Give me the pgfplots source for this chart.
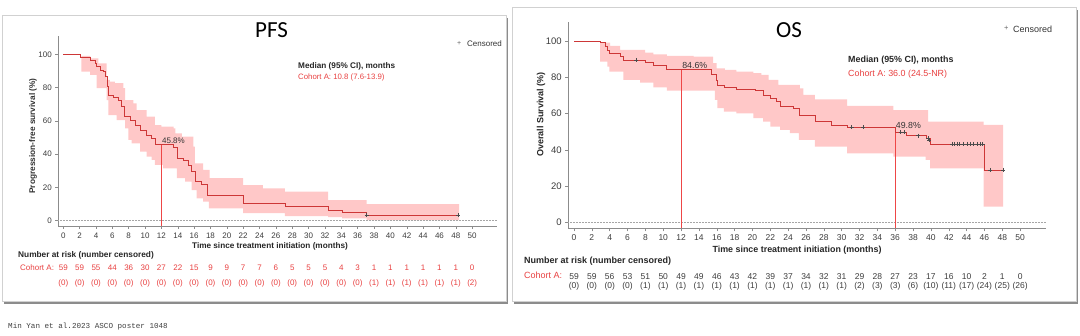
\documentclass[border=0pt]{standalone}
\usepackage{fontspec}
\setmainfont{Liberation Sans}
\newfontfamily\titlefont{Carlito}
\newfontfamily\footfont{Liberation Mono}
\usepackage{pgfplots}
\pgfplotsset{compat=1.18}
\usepgfplotslibrary{fillbetween}
\definecolor{kmline}{RGB}{205,55,55}
\definecolor{band}{RGB}{255,200,200}
\definecolor{txtred}{RGB}{232,64,64}
\definecolor{medline}{RGB}{238,70,70}
\definecolor{axgray}{RGB}{140,140,140}
\definecolor{tickgray}{RGB}{60,60,60}
\newcommand{\fs}[1]{\fontsize{#1}{#1}\selectfont}
\begin{document}
\begin{tikzpicture}
\path (0pt,0pt) rectangle (1080pt,336pt);
% panel frames
\draw[black!45, line width=2.2pt] (507pt,318pt) -- (507pt,33.5pt) -- (4pt,33.5pt);
\draw[black!18, line width=0.6pt] (2pt,34.5pt) rectangle (506pt,321pt);
\draw[black!45, line width=2.2pt] (1077pt,326pt) -- (1077pt,33.5pt) -- (514pt,33.5pt);
\draw[black!18, line width=0.6pt] (512pt,34.5pt) rectangle (1076pt,329pt);
% footer
\node[anchor=west, inner sep=0, font=\footfont\fs{7.6}, text=black!75] at (8pt,9pt) {Min Yan et al.2023 ASCO poster 1048};

% ================= PFS =================
\begin{axis}[
  at={(58.3pt,110pt)}, anchor=south west, scale only axis,
  width=438.4pt, height=190pt,
  xmin=-0.61, xmax=53.0, ymin=-3.2, ymax=111,
  axis lines*=left, axis line style={axgray, line width=0.6pt},
  xtick={0,2,...,50}, ytick={0,20,...,100},
  tick align=outside, major tick length=3pt,
  tick style={axgray, line width=0.5pt},
  tick label style={font=\fs{8}, text=tickgray},
  /pgf/number format/assume math mode=true,
  clip=false,
  extra x ticks={0,2,...,50},
  extra x tick labels={{59\\(0)},{59\\(0)},{55\\(0)},{44\\(0)},{36\\(0)},{30\\(0)},{27\\(0)},{22\\(0)},{15\\(0)},{9\\(0)},{9\\(0)},{7\\(0)},{7\\(0)},{6\\(0)},{5\\(0)},{5\\(0)},{5\\(0)},{4\\(0)},{3\\(0)},{1\\(1)},{1\\(1)},{1\\(1)},{1\\(1)},{1\\(1)},{1\\(1)},{0\\(2)}},
  extra x tick style={major tick length=0pt, tick label style={text=txtred, align=center, font=\fontsize{8}{15}\selectfont, yshift=-35pt}},
]
\addplot[black!35, densely dotted, line width=0.5pt] coordinates {(-0.61,0) (53,0)};
\addplot[const plot, draw=none, name path=pfsup] coordinates {
(2.2,99)(3.3,97.6)(4.3,94.6)(5.3,84.6)(5.7,83.6)(6.3,82.6)(7.35,79.6)(7.55,72.5)(8.57,70.5)(8.98,66.5)(10.2,62.5)(11.2,57.5)(12.0,56.5)(13.5,55.5)(13.7,52.5)(14.5,50.5)(15.9,44.5)(16.1,34.5)(17.1,30.5)(17.9,25.5)(22.0,21.4)(24.4,19.4)(27.1,17.4)(32.4,12.4)(37.1,10.0)(48.4,10.0)};
\addplot[const plot, draw=none, name path=pfslo] coordinates {
(2.2,89.6)(3.27,87.6)(4.08,79.6)(5.31,72.5)(5.51,63.5)(6.53,60.5)(7.55,55.5)(7.96,48.5)(8.37,46.5)(9.39,41.5)(10.2,38.5)(10.8,36.5)(11.2,33.5)(12.2,31.5)(13.9,25.5)(14.9,23.4)(15.7,18.4)(16.3,13.4)(17.1,11.4)(17.8,7.4)(22.0,4.6)(27.1,2.8)(32.4,2.2)(34.1,1.4)(37.1,0.4)(48.4,0.4)};
\addplot[fill=band, draw=none] fill between[of=pfsup and pfslo];
\addplot[color=medline, draw=medline, mark=none, line width=0.8pt] coordinates {(12,-3.2)(12,45.8)};
\addplot[kmline, line width=0.7pt, const plot] coordinates {
(0,100)(2.1,98.3)(3.3,96.6)(3.9,94.6)(4.1,92.6)(4.5,90.6)(4.9,89.6)(5.2,86.6)(5.4,80.6)(5.5,75.5)(6.1,74)(6.7,72.5)(7.1,68.5)(7.5,62.5)(8.2,60.5)(8.8,57.5)(9.4,54.5)(10.2,51.5)(10.8,49.5)(11.2,45.8)(13.5,44.2)(13.9,37.5)(14.7,36.5)(15.3,33.5)(15.7,29.5)(16.1,23.5)(16.9,22.0)(17.6,15.4)(22.0,10.4)(27.1,8.4)(32.4,6.4)(34.1,5.0)(37.1,3.4)(48.3,3.4)};
\addplot[only marks, mark=+, mark size=2pt, black!70, line width=0.5pt] coordinates {(37.1,3.4)(48.3,3.4)};
\node[anchor=south west, inner sep=0.5pt, font=\fs{8}, text=black!80] at (axis cs:12,45.8) {45.8\%};
\end{axis}
\node[font=\titlefont\fs{23}] at (271.5pt,306pt) {PFS};
\node[anchor=west, inner sep=0, font=\fs{7}, text=black!60] at (457pt,292.5pt) {+};
\node[anchor=west, inner sep=0, font=\fs{8}, text=black!80] at (467pt,292pt) {Censored};
\node[anchor=west, inner sep=0, font=\bfseries\fs{8.2}, text=black!85] at (298pt,270pt) {Median (95\% CI), months};
\node[anchor=west, inner sep=0, font=\fs{7.8}, text=txtred] at (298pt,259pt) {Cohort A: 10.8 (7.6-13.9)};
\node[rotate=90, inner sep=0, font=\bfseries\fs{8.3}, text=black!80] at (33pt,200pt) {Progression-free survival (\%)};
\node[inner sep=0, font=\bfseries\fs{8.2}, text=black!85] at (270pt,90pt) {Time since treatment initiation (months)};
\node[anchor=west, inner sep=0, font=\bfseries\fs{8.3}, text=black!85] at (18pt,81pt) {Number at risk (number censored)};
\node[anchor=west, inner sep=0, font=\fs{8}, text=txtred] at (20pt,68.5pt) {Cohort A:};

% ================= OS =================
\begin{axis}[
  at={(568.3pt,107.7pt)}, anchor=south west, scale only axis,
  width=477.7pt, height=206.6pt,
  xmin=-0.64, xmax=52.9, ymin=-3.3, ymax=110.6,
  axis lines*=left, axis line style={axgray, line width=0.6pt},
  xtick={0,2,...,50}, ytick={0,20,...,100},
  tick align=outside, major tick length=3pt,
  tick style={axgray, line width=0.5pt},
  xticklabel style={font=\fs{8.5}, text=tickgray},
  yticklabel style={font=\fs{9.5}, text=tickgray},
  /pgf/number format/assume math mode=true,
  clip=false,
  extra x ticks={0,2,...,50},
  extra x tick labels={{59\\(0)},{59\\(0)},{56\\(0)},{53\\(0)},{51\\(1)},{50\\(1)},{49\\(1)},{49\\(1)},{46\\(1)},{43\\(1)},{42\\(1)},{39\\(1)},{37\\(1)},{34\\(1)},{32\\(1)},{31\\(1)},{29\\(2)},{28\\(3)},{27\\(3)},{23\\(6)},{17\\(10)},{16\\(11)},{10\\(17)},{2\\(24)},{1\\(25)},{0\\(26)}},
  extra x tick style={major tick length=0pt, tick label style={text=txtred, align=center, font=\fontsize{8.6}{12.5}\selectfont, yshift=-42pt}},
]
\addplot[black!35, densely dotted, line width=0.5pt] coordinates {(-0.64,0) (52.9,0)};
\addplot[const plot, draw=none, name path=osup] coordinates {
(2.92,99)(4.04,97.2)(5.16,95)(7.96,93.6)(8.9,92.6)(10.4,91.7)(13.4,91.4)(15.6,87.7)(15.99,84.9)(16.9,84)(18.2,83.1)(20.1,82.2)(21.0,81.3)(21.8,78.5)(22.9,75.7)(25.3,73.9)(25.7,70.2)(27.0,67.8)(30.6,64.2)(35.8,61.9)(39.7,55.5)(45.9,53.7)(48.1,53.7)};
\addplot[const plot, draw=none, name path=oslo] coordinates {
(2.92,88.6)(3.74,85.8)(3.96,83.1)(5.53,78.5)(7.4,77)(8.9,74.4)(10.4,72.6)(15.8,67.5)(16.07,62.9)(16.8,61)(18.2,60.1)(20.1,57.4)(21.2,55.5)(22.0,52.8)(23.1,50.9)(24.2,49.1)(25.2,45.4)(27.0,41.7)(30.6,38.0)(35.8,36.2)(39.4,34.4)(39.9,29.8)(45.9,8.6)(48.1,8.6)};
\addplot[fill=band, draw=none] fill between[of=osup and oslo];
\addplot[color=medline, draw=medline, mark=none, line width=0.8pt] coordinates {(12,-3.3)(12,84.6)};
\addplot[color=medline, draw=medline, mark=none, line width=0.8pt] coordinates {(36,-3.3)(36,49.8)};
\addplot[kmline, line width=0.7pt, const plot] coordinates {
(0,100)(2.92,99)(3.48,96.9)(3.74,95)(3.96,93.2)(5.16,91.4)(5.53,89.5)(7.96,88)(8.9,86.4)(10.4,84.6)(15.44,81.3)(15.9,78.5)(16.07,75.7)(16.8,74.3)(18.2,73.3)(20.3,72.6)(21.2,70.2)(22.0,68.4)(22.7,66.5)(23.1,64.2)(24.6,62.9)(25.2,59.2)(27.0,55.5)(28.8,53.7)(30.6,52.4)(36.0,49.8)(37.3,47.8)(39.5,46.3)(39.9,43.2)(45.98,28.9)(48.1,28.9)};
\addplot[only marks, mark=+, mark size=2pt, black!70, line width=0.5pt] coordinates {
(6.95,89.5)(31.1,52.4)(32.4,52.4)(36.6,49.8)(37.0,49.8)(38.6,47.8)(39.7,46.3)(39.8,45.2)(42.4,43.2)(42.65,43.2)(42.9,43.2)(43.2,43.2)(43.65,43.2)(44.05,43.2)(44.4,43.2)(44.8,43.2)(45.2,43.2)(45.5,43.2)(45.8,43.2)(46.6,28.9)(48.1,28.9)};
\node[anchor=south west, inner sep=0.5pt, xshift=0.5pt, font=\fs{8.8}, text=black!80] at (axis cs:12,84.6) {84.6\%};
\node[anchor=south west, inner sep=0.5pt, yshift=3pt, font=\fs{8.8}, text=black!80] at (axis cs:36,49.8) {49.8\%};
\end{axis}
\node[font=\titlefont\fs{23}] at (789pt,306pt) {OS};
\node[anchor=west, inner sep=0, font=\fs{7.5}, text=black!60] at (1004pt,307.5pt) {+};
\node[anchor=west, inner sep=0, font=\fs{9}, text=black!80] at (1013pt,307pt) {Censored};
\node[anchor=west, inner sep=0, font=\bfseries\fs{8.9}, text=black!85] at (848pt,276pt) {Median (95\% CI), months};
\node[anchor=west, inner sep=0, font=\fs{8.9}, text=txtred] at (848pt,262pt) {Cohort A: 36.0 (24.5-NR)};
\node[rotate=90, inner sep=0, font=\bfseries\fs{9}, text=black!85] at (541pt,221.5pt) {Overall Survival (\%)};
\node[inner sep=0, font=\bfseries\fs{8.9}, text=black!85] at (797pt,86pt) {Time since treatment initiation (months)};
\node[anchor=west, inner sep=0, font=\bfseries\fs{9}, text=black!85] at (524pt,75pt) {Number at risk (number censored)};
\node[anchor=west, inner sep=0, font=\fs{9}, text=txtred] at (524pt,61pt) {Cohort A:};
\end{tikzpicture}
\end{document}
